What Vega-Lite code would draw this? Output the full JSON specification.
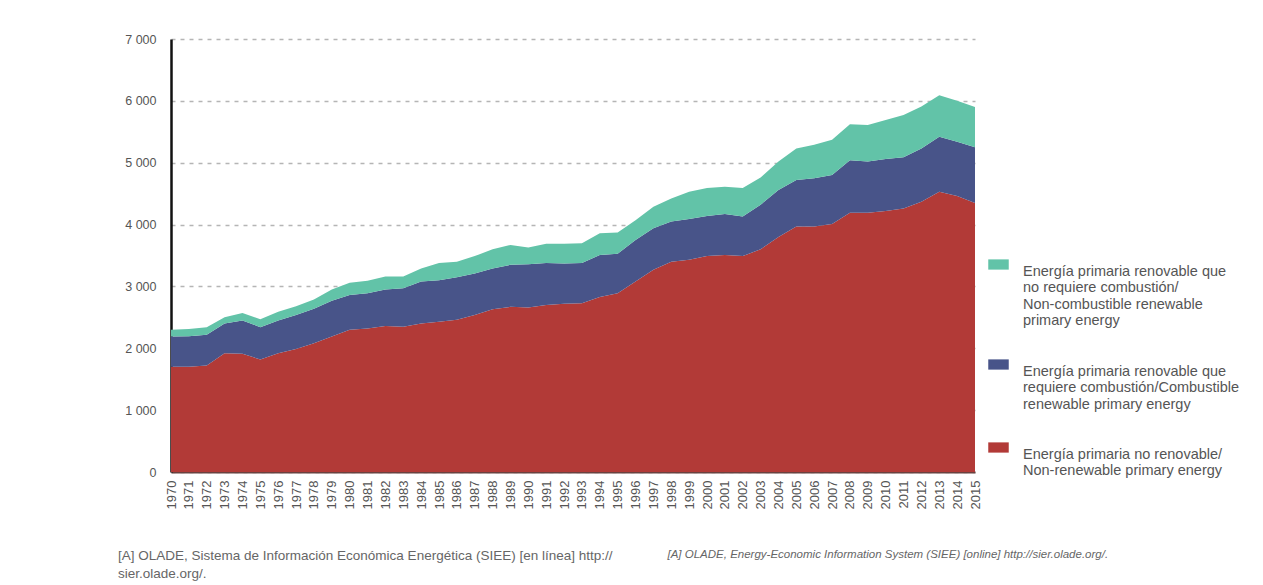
{
  "$schema": "https://vega.github.io/schema/vega-lite/v6.json",
  "width": 804,
  "height": 433,
  "autosize": {"type": "none"},
  "padding": {"left": 171, "top": 39, "right": 288, "bottom": 113},
  "background": "white",
  "config": {"view": {"stroke": null}, "font": "Liberation Sans"},
  "title": {
    "text": ["[A] OLADE, Sistema de Información Económica Energética (SIEE) [en línea] http://", "\u2002\u2002\u2002sier.olade.org/."],
    "orient": "bottom",
    "anchor": "start",
    "frame": "group",
    "dx": -53,
    "offset": -11,
    "font": "Liberation Sans",
    "fontSize": 13.5,
    "fontWeight": "normal",
    "color": "#666",
    "lineHeight": 18
  },
  "data": {
    "values": [
      {"year": 1970, "serie": "nr", "value": 1700}, {"year": 1970, "serie": "rc", "value": 490}, {"year": 1970, "serie": "rnc", "value": 110},
      {"year": 1971, "serie": "nr", "value": 1700}, {"year": 1971, "serie": "rc", "value": 495}, {"year": 1971, "serie": "rnc", "value": 115},
      {"year": 1972, "serie": "nr", "value": 1720}, {"year": 1972, "serie": "rc", "value": 500}, {"year": 1972, "serie": "rnc", "value": 120},
      {"year": 1973, "serie": "nr", "value": 1920}, {"year": 1973, "serie": "rc", "value": 480}, {"year": 1973, "serie": "rnc", "value": 100},
      {"year": 1974, "serie": "nr", "value": 1910}, {"year": 1974, "serie": "rc", "value": 540}, {"year": 1974, "serie": "rnc", "value": 120},
      {"year": 1975, "serie": "nr", "value": 1820}, {"year": 1975, "serie": "rc", "value": 520}, {"year": 1975, "serie": "rnc", "value": 130},
      {"year": 1976, "serie": "nr", "value": 1920}, {"year": 1976, "serie": "rc", "value": 530}, {"year": 1976, "serie": "rnc", "value": 140},
      {"year": 1977, "serie": "nr", "value": 1990}, {"year": 1977, "serie": "rc", "value": 550}, {"year": 1977, "serie": "rnc", "value": 140},
      {"year": 1978, "serie": "nr", "value": 2080}, {"year": 1978, "serie": "rc", "value": 560}, {"year": 1978, "serie": "rnc", "value": 150},
      {"year": 1979, "serie": "nr", "value": 2190}, {"year": 1979, "serie": "rc", "value": 580}, {"year": 1979, "serie": "rnc", "value": 180},
      {"year": 1980, "serie": "nr", "value": 2300}, {"year": 1980, "serie": "rc", "value": 560}, {"year": 1980, "serie": "rnc", "value": 200},
      {"year": 1981, "serie": "nr", "value": 2320}, {"year": 1981, "serie": "rc", "value": 570}, {"year": 1981, "serie": "rnc", "value": 200},
      {"year": 1982, "serie": "nr", "value": 2360}, {"year": 1982, "serie": "rc", "value": 590}, {"year": 1982, "serie": "rnc", "value": 210},
      {"year": 1983, "serie": "nr", "value": 2350}, {"year": 1983, "serie": "rc", "value": 620}, {"year": 1983, "serie": "rnc", "value": 190},
      {"year": 1984, "serie": "nr", "value": 2400}, {"year": 1984, "serie": "rc", "value": 680}, {"year": 1984, "serie": "rnc", "value": 210},
      {"year": 1985, "serie": "nr", "value": 2430}, {"year": 1985, "serie": "rc", "value": 670}, {"year": 1985, "serie": "rnc", "value": 280},
      {"year": 1986, "serie": "nr", "value": 2460}, {"year": 1986, "serie": "rc", "value": 690}, {"year": 1986, "serie": "rnc", "value": 250},
      {"year": 1987, "serie": "nr", "value": 2540}, {"year": 1987, "serie": "rc", "value": 670}, {"year": 1987, "serie": "rnc", "value": 280},
      {"year": 1988, "serie": "nr", "value": 2630}, {"year": 1988, "serie": "rc", "value": 660}, {"year": 1988, "serie": "rnc", "value": 310},
      {"year": 1989, "serie": "nr", "value": 2670}, {"year": 1989, "serie": "rc", "value": 680}, {"year": 1989, "serie": "rnc", "value": 320},
      {"year": 1990, "serie": "nr", "value": 2660}, {"year": 1990, "serie": "rc", "value": 700}, {"year": 1990, "serie": "rnc", "value": 270},
      {"year": 1991, "serie": "nr", "value": 2700}, {"year": 1991, "serie": "rc", "value": 680}, {"year": 1991, "serie": "rnc", "value": 310},
      {"year": 1992, "serie": "nr", "value": 2720}, {"year": 1992, "serie": "rc", "value": 650}, {"year": 1992, "serie": "rnc", "value": 320},
      {"year": 1993, "serie": "nr", "value": 2730}, {"year": 1993, "serie": "rc", "value": 650}, {"year": 1993, "serie": "rnc", "value": 320},
      {"year": 1994, "serie": "nr", "value": 2830}, {"year": 1994, "serie": "rc", "value": 680}, {"year": 1994, "serie": "rnc", "value": 350},
      {"year": 1995, "serie": "nr", "value": 2890}, {"year": 1995, "serie": "rc", "value": 640}, {"year": 1995, "serie": "rnc", "value": 340},
      {"year": 1996, "serie": "nr", "value": 3080}, {"year": 1996, "serie": "rc", "value": 670}, {"year": 1996, "serie": "rnc", "value": 320},
      {"year": 1997, "serie": "nr", "value": 3270}, {"year": 1997, "serie": "rc", "value": 670}, {"year": 1997, "serie": "rnc", "value": 350},
      {"year": 1998, "serie": "nr", "value": 3400}, {"year": 1998, "serie": "rc", "value": 650}, {"year": 1998, "serie": "rnc", "value": 370},
      {"year": 1999, "serie": "nr", "value": 3430}, {"year": 1999, "serie": "rc", "value": 660}, {"year": 1999, "serie": "rnc", "value": 440},
      {"year": 2000, "serie": "nr", "value": 3490}, {"year": 2000, "serie": "rc", "value": 650}, {"year": 2000, "serie": "rnc", "value": 450},
      {"year": 2001, "serie": "nr", "value": 3510}, {"year": 2001, "serie": "rc", "value": 660}, {"year": 2001, "serie": "rnc", "value": 440},
      {"year": 2002, "serie": "nr", "value": 3490}, {"year": 2002, "serie": "rc", "value": 640}, {"year": 2002, "serie": "rnc", "value": 460},
      {"year": 2003, "serie": "nr", "value": 3600}, {"year": 2003, "serie": "rc", "value": 720}, {"year": 2003, "serie": "rnc", "value": 440},
      {"year": 2004, "serie": "nr", "value": 3800}, {"year": 2004, "serie": "rc", "value": 760}, {"year": 2004, "serie": "rnc", "value": 460},
      {"year": 2005, "serie": "nr", "value": 3970}, {"year": 2005, "serie": "rc", "value": 750}, {"year": 2005, "serie": "rnc", "value": 510},
      {"year": 2006, "serie": "nr", "value": 3970}, {"year": 2006, "serie": "rc", "value": 780}, {"year": 2006, "serie": "rnc", "value": 540},
      {"year": 2007, "serie": "nr", "value": 4010}, {"year": 2007, "serie": "rc", "value": 790}, {"year": 2007, "serie": "rnc", "value": 570},
      {"year": 2008, "serie": "nr", "value": 4190}, {"year": 2008, "serie": "rc", "value": 850}, {"year": 2008, "serie": "rnc", "value": 580},
      {"year": 2009, "serie": "nr", "value": 4190}, {"year": 2009, "serie": "rc", "value": 830}, {"year": 2009, "serie": "rnc", "value": 590},
      {"year": 2010, "serie": "nr", "value": 4220}, {"year": 2010, "serie": "rc", "value": 840}, {"year": 2010, "serie": "rnc", "value": 630},
      {"year": 2011, "serie": "nr", "value": 4260}, {"year": 2011, "serie": "rc", "value": 830}, {"year": 2011, "serie": "rnc", "value": 680},
      {"year": 2012, "serie": "nr", "value": 4370}, {"year": 2012, "serie": "rc", "value": 860}, {"year": 2012, "serie": "rnc", "value": 680},
      {"year": 2013, "serie": "nr", "value": 4530}, {"year": 2013, "serie": "rc", "value": 890}, {"year": 2013, "serie": "rnc", "value": 670},
      {"year": 2014, "serie": "nr", "value": 4460}, {"year": 2014, "serie": "rc", "value": 880}, {"year": 2014, "serie": "rnc", "value": 660},
      {"year": 2015, "serie": "nr", "value": 4350}, {"year": 2015, "serie": "rc", "value": 900}, {"year": 2015, "serie": "rnc", "value": 650}
    ]
  },
  "mark": {"type": "area", "opacity": 1, "interpolate": "linear"},
  "encoding": {
    "x": {
      "field": "year",
      "type": "ordinal",
      "scale": {"type": "point", "padding": 0},
      "axis": {
        "labelAngle": 270,
        "labelFont": "Liberation Sans",
        "labelFontSize": 13,
        "labelColor": "#555",
        "labelPadding": 8,
        "ticks": false,
        "domain": true,
        "domainColor": "#6a4240",
        "domainWidth": 2,
        "grid": false,
        "title": "[A] OLADE, Energy-Economic Information System (SIEE) [online] http://sier.olade.org/.",
        "titleFont": "Liberation Sans",
        "titleFontSize": 11.5,
        "titleFontWeight": "normal",
        "titleFontStyle": "italic",
        "titleColor": "#666",
        "titleAnchor": "start",
        "titleAlign": "left",
        "titleBaseline": "middle",
        "titleX": 496,
        "titleY": 82
      }
    },
    "y": {
      "field": "value",
      "type": "quantitative",
      "stack": "zero",
      "scale": {"domain": [0, 7000], "nice": false},
      "axis": {
        "title": null,
        "values": [0, 1000, 2000, 3000, 4000, 5000, 6000, 7000],
        "labelExpr": "replace(format(datum.value, ','), ',', ' ')",
        "labelFont": "Liberation Sans",
        "labelFontSize": 12.5,
        "labelColor": "#555",
        "labelPadding": 15,
        "ticks": false,
        "domain": true,
        "domainColor": "#111",
        "domainWidth": 2.5,
        "grid": true,
        "gridColor": "#b5b5b5",
        "gridDash": [4, 5],
        "gridWidth": 1.5
      }
    },
    "color": {
      "field": "serie",
      "type": "nominal",
      "scale": {"domain": ["rnc", "rc", "nr"], "range": ["#62c3a8", "#485489", "#b23a37"]},
      "legend": {
        "title": null,
        "orient": "none",
        "legendX": 817,
        "legendY": 215,
        "direction": "vertical",
        "symbolType": "M-1,-0.5H1V0.5H-1Z",
        "symbolSize": 420,
        "symbolStrokeWidth": 0,
        "symbolOpacity": 1,
        "labelFont": "Liberation Sans",
        "labelFontSize": 14.5,
        "labelColor": "#555",
        "labelLineHeight": 18,
        "labelBaseline": "top",
        "labelLimit": 320,
        "labelOffset": 14,
        "rowPadding": 26,
        "labelExpr": "datum.label == 'rnc' ? ['Energía primaria renovable que', 'no requiere combustión/', 'Non-combustible renewable', 'primary energy'] : datum.label == 'rc' ? ['Energía primaria renovable que', 'requiere combustión/Combustible', 'renewable primary energy'] : ['Energía primaria no renovable/', 'Non-renewable primary energy']"
      }
    },
    "order": {"field": "serie", "sort": "ascending"}
  }
}
